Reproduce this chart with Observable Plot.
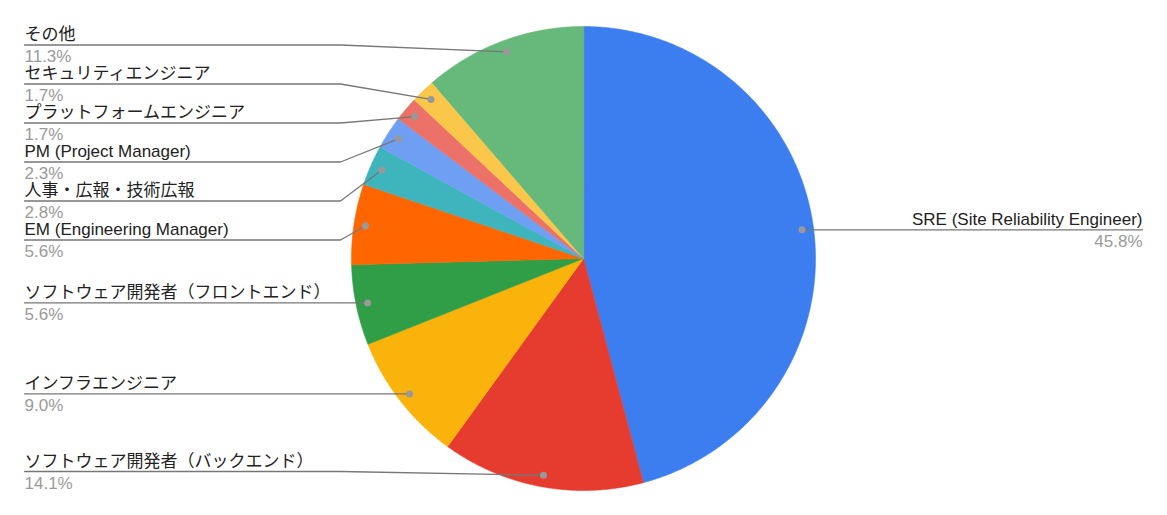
<!DOCTYPE html>
<html>
<head>
<meta charset="utf-8">
<script src="https://cdn.jsdelivr.net/npm/d3@7"></script>
<script src="https://cdn.jsdelivr.net/npm/@observablehq/plot@0.6"></script>
<style>
  html, body { margin: 0; padding: 0; background: #fff; }
  #chart svg { display: block; }
</style>
</head>
<body>
<div id="chart"></div>
<script>
// Roles of respondents, clockwise from 12 o'clock
const roles = [
  "SRE (Site Reliability Engineer)",
  "ソフトウェア開発者（バックエンド）",
  "インフラエンジニア",
  "ソフトウェア開発者（フロントエンド）",
  "EM (Engineering Manager)",
  "人事・広報・技術広報",
  "PM (Project Manager)",
  "プラットフォームエンジニア",
  "セキュリティエンジニア",
  "その他"
];
// Share of respondents, percent
const shares = [45.8, 14.1, 9.0, 5.6, 5.6, 2.8, 2.3, 1.7, 1.7, 11.3];
const colors = [
  "#3c7ef0", "#e63c30", "#f9b30a", "#2f9e47", "#ff6600",
  "#3eb5bd", "#6e9ff3", "#ec7168", "#fbc74a", "#66b97b"
];

// Layout
const W = 1167, H = 515;
const cx = 583, cy = 258, R = 232;
const dotR = R * 0.95;          // where leader lines touch the slice
const elbow = 11;               // leader line bend, outside the rim
const leftX = 24, rightX = W - 25;
const gap = 39, topY = 44.5, bottomY = 471;
const font = "'Liberation Sans', Arial, 'Noto Sans CJK JP', sans-serif";

const data = roles.map((name, i) => ({name, value: shares[i], color: colors[i]}));
const arcs = d3.pie().sort(null).value(d => d.value)(data);

// Slice outlines (angle measured clockwise from 12 o'clock)
const pt = (a, r) => [cx + r * Math.sin(a), cy - r * Math.cos(a)];
const slicePts = [];
for (const a of arcs) {
  const n = Math.max(2, Math.ceil((a.endAngle - a.startAngle) / (Math.PI / 360)));
  const [x0, y0] = [cx, cy];
  slicePts.push({name: a.data.name, x: x0, y: y0});
  for (let k = 0; k <= n; ++k) {
    const t = a.startAngle + (a.endAngle - a.startAngle) * k / n;
    const [x, y] = pt(t, R);
    slicePts.push({name: a.data.name, x, y});
  }
}

// Label anchors
const labels = arcs.map(a => {
  const mid = (a.startAngle + a.endAngle) / 2;
  const [dx, dy] = pt(mid, dotR);
  return {
    name: a.data.name,
    pct: a.data.value.toFixed(1) + "%",
    side: mid < Math.PI ? "right" : "left",
    dx, dy, want: dy
  };
});

// Stack labels on each side so they never overlap
function spread(items) {
  items.sort((a, b) => a.want - b.want);
  const clusters = [];
  const place = c => {
    const n = c.items.length;
    const mean = d3.mean(c.items, d => d.want);
    c.start = Math.max(topY, Math.min(bottomY - (n - 1) * gap, mean - (n - 1) * gap / 2));
  };
  for (const it of items) {
    const c = {items: [it]};
    place(c);
    clusters.push(c);
    while (clusters.length > 1) {
      const b = clusters[clusters.length - 1], a = clusters[clusters.length - 2];
      if (a.start + a.items.length * gap > b.start) {
        clusters.pop();
        a.items.push(...b.items);
        place(a);
      } else break;
    }
  }
  for (const c of clusters) c.items.forEach((d, i) => d.ly = c.start + i * gap);
}
spread(labels.filter(d => d.side === "left"));
spread(labels.filter(d => d.side === "right"));

// Leader polylines: label edge -> elbow -> dot
const leaderPts = [];
for (const d of labels) {
  const left = d.side === "left";
  const ex = left ? cx - R - elbow : cx + R + elbow;
  const tx = left ? leftX : rightX;
  leaderPts.push({name: d.name, x: tx, y: d.ly});
  leaderPts.push({name: d.name, x: ex, y: d.ly});
  leaderPts.push({name: d.name, x: d.dx, y: d.dy});
}
labels.forEach(d => {
  d.tx = d.side === "left" ? leftX : rightX;
  d.anchor = d.side === "left" ? "start" : "end";
});

const chart = Plot.plot({
  width: W,
  height: H,
  margin: 0,
  style: {fontFamily: font, background: "#fff"},
  x: {domain: [0, W], range: [0, W], axis: null},
  y: {domain: [0, H], range: [0, H], axis: null},
  color: {domain: roles, range: colors},
  marks: [
    Plot.line(slicePts, {
      x: "x", y: "y", z: "name",
      fill: "name", stroke: "name", strokeWidth: 0.6,
      curve: "linear-closed"
    }),
    Plot.line(leaderPts, {
      x: "x", y: "y", z: "name",
      stroke: "#777", strokeWidth: 1.3
    }),
    Plot.dot(labels, {x: "dx", y: "dy", r: 3.5, fill: "#999", stroke: "none"}),
    Plot.text(labels.filter(d => d.side === "left"), {
      x: "tx", y: d => d.ly - 5, text: "name",
      textAnchor: "start", lineAnchor: "bottom",
      fontSize: 17, fill: "#222", fontFamily: font
    }),
    Plot.text(labels.filter(d => d.side === "right"), {
      x: "tx", y: d => d.ly - 5, text: "name",
      textAnchor: "end", lineAnchor: "bottom",
      fontSize: 17, fill: "#222", fontFamily: font
    }),
    Plot.text(labels.filter(d => d.side === "left"), {
      x: "tx", y: d => d.ly + 5, text: "pct",
      textAnchor: "start", lineAnchor: "top",
      fontSize: 17, fill: "#9a9a9a", fontFamily: font
    }),
    Plot.text(labels.filter(d => d.side === "right"), {
      x: "tx", y: d => d.ly + 5, text: "pct",
      textAnchor: "end", lineAnchor: "top",
      fontSize: 17, fill: "#9a9a9a", fontFamily: font
    })
  ]
});
document.getElementById("chart").append(chart);
</script>
</body>
</html>
